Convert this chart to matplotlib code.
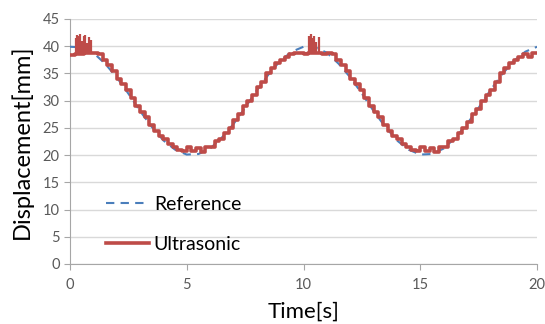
import numpy as np
import matplotlib.pyplot as plt

# reference (dashed) curve, sampled every 0.5 s
ref_t = np.arange(0, 20.01, 0.5)
ref_y = [39.9, 39.8, 38.8, 36.8, 34.3, 31.3, 28.1, 25.2, 22.7, 21.0,
         20.1, 20.2, 21.2, 23.2, 25.7, 28.7, 31.9, 34.8, 37.3, 39.0,
         39.9, 39.8, 38.8, 36.8, 34.3, 31.3, 28.1, 25.2, 22.7, 21.0,
         20.1, 20.2, 21.2, 23.2, 25.7, 28.7, 31.9, 34.8, 37.3, 39.0, 39.9]

# ultrasonic measurement, step values every 0.2 s
us_t = np.arange(0, 20.01, 0.2)
us_y = [38.4, 38.6, 38.6, 38.7, 38.7, 38.7, 38.5, 37.5, 36.5, 35.5,
        34.0, 33.0, 32.0, 30.5, 29.0, 28.0, 27.0, 25.5, 24.5, 23.5,
        23.0, 22.0, 21.5, 21.0, 20.8, 21.4, 20.7, 21.3, 20.6, 21.4,
        21.5, 22.5, 23.0, 24.0, 25.0, 26.5, 27.5, 29.0, 30.0, 31.0,
        32.5, 33.5, 35.0, 36.0, 37.0, 37.5, 38.0, 38.5, 38.7, 38.7,
        38.6, 38.7, 38.7, 38.7, 38.6, 38.7, 38.5, 37.5, 36.5, 35.5,
        34.0, 33.0, 32.0, 30.5, 29.0, 28.0, 27.0, 25.5, 24.5, 23.5,
        23.0, 22.0, 21.5, 21.0, 20.8, 21.4, 20.7, 21.3, 20.6, 21.4,
        21.5, 22.5, 23.0, 24.0, 25.0, 26.0, 27.5, 28.5, 30.0, 31.0,
        32.0, 33.5, 35.0, 36.0, 37.0, 37.5, 38.0, 38.5, 38.0, 38.7, 38.7]

# spikes near the peaks
spike_t = [0.25, 0.32, 0.38, 0.45, 0.52, 0.58, 0.65, 0.72, 0.80, 0.88,
           10.22, 10.30, 10.38, 10.46, 10.55, 10.65]
spike_top = [41.5, 42.0, 41.8, 42.2, 41.0, 41.9, 42.1, 40.5, 41.7, 41.2,
             41.8, 42.2, 41.5, 41.9, 40.8, 41.6]

plt.rcParams['font.family'] = ['Lato', 'DejaVu Sans']

fig = plt.figure(figsize=(5.45, 3.24), dpi=100)
ax = fig.add_axes([0.1284, 0.1852, 0.857, 0.7562])

red = '#be4b48'
blue = '#4a7ebb'

ax.plot(ref_t, ref_y, color=blue, lw=1.5, ls=(0, (4, 3)), label='Reference', zorder=3)
ax.plot(us_t, us_y, color=red, lw=2.6, drawstyle='steps-post', label='Ultrasonic', zorder=4)
ax.vlines(spike_t, 38.6, spike_top, color=red, lw=1.6, zorder=4)

ax.set_xlim(0, 20)
ax.set_ylim(0, 45)
ax.set_xticks([0, 5, 10, 15, 20])
ax.set_yticks(range(0, 46, 5))
ax.yaxis.grid(True, color='#d9d9d9', lw=1.0)
ax.set_axisbelow(True)

for s in ['top', 'right']:
    ax.spines[s].set_visible(False)
for s in ['left', 'bottom']:
    ax.spines[s].set_color('#a6a6a6')
ax.tick_params(colors='#a6a6a6', labelcolor='#595959', labelsize=10.5, length=4)
ax.tick_params(axis='x', pad=6)

ax.set_xlabel('Time[s]', fontsize=16, labelpad=7)
ax.set_ylabel('Displacement[mm]', fontsize=17, labelpad=7)

ax.legend(loc='lower left', bbox_to_anchor=(0.04, -0.025), frameon=False,
          fontsize=14, handlelength=2.2, handletextpad=0.25, labelspacing=1.15)

fig.savefig('out.png', dpi=100)
